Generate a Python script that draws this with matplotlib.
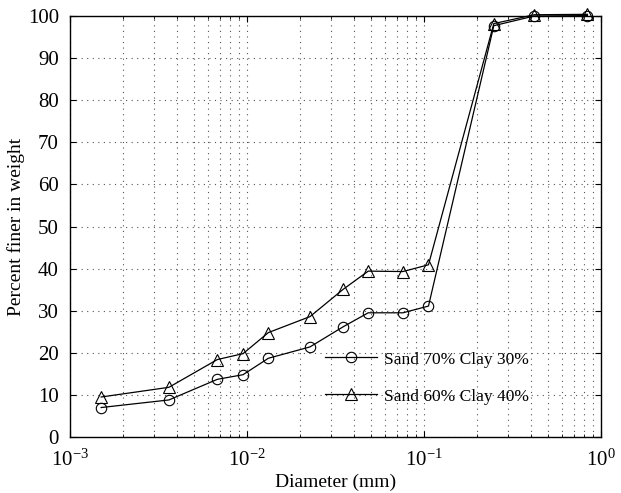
import matplotlib
matplotlib.use("Agg")
import matplotlib.pyplot as plt
from matplotlib.ticker import LogLocator, FixedLocator, NullFormatter

plt.rcParams['font.family'] = ['Liberation Serif', 'DejaVu Serif']
plt.rcParams['mathtext.fontset'] = 'custom'
plt.rcParams['mathtext.rm'] = 'Liberation Serif'
plt.rcParams['mathtext.it'] = 'Liberation Serif:italic'

diameter = [1.50e-3, 3.62e-3, 6.8e-3, 9.5e-3, 1.32e-2, 2.27e-2, 3.5e-2, 4.84e-2,
            7.6e-2, 0.106, 0.248, 0.42, 0.838]
sand70_clay30 = [7.0, 8.8, 13.7, 14.8, 18.7, 21.4, 26.2, 29.5, 29.5, 31.1, 97.7, 100.0, 100.1]
sand60_clay40 = [9.5, 11.8, 18.4, 19.8, 24.8, 28.6, 35.1, 39.4, 39.3, 40.9, 98.2, 100.3, 100.4]
labels = ['Sand 70% Clay 30%', 'Sand 60% Clay 40%']
yticks = list(range(0, 101, 10))

fig = plt.figure(figsize=(6.21, 4.93), dpi=100)
ax = fig.add_axes([70/621, 1-437/493, 531/621, 421/493])

ax.plot(diameter, sand70_clay30, color='black', lw=0.9, marker='o', ms=7.5,
        mfc='none', mec='black', mew=0.8, label=labels[0], clip_on=False)
ax.plot(diameter, sand60_clay40, color='black', lw=0.9, marker='^', ms=8.5,
        mfc='none', mec='black', mew=0.8, label=labels[1], clip_on=False)

ax.set_xscale('log')
ax.set_xlim(1e-3, 1)
ax.set_ylim(0, 100)
ax.set_yticks(yticks)
ax.xaxis.set_major_locator(FixedLocator([1e-3, 1e-2, 1e-1, 1]))
ax.xaxis.set_minor_locator(LogLocator(base=10, subs=range(2, 10)))
ax.xaxis.set_minor_formatter(NullFormatter())
ax.set_xticklabels([r'$10^{-3}$', r'$10^{-2}$', r'$10^{-1}$', r'$10^{0}$'])

ax.grid(True, which='major', axis='both', linestyle=(0, (1, 4)), color='#555555', lw=0.8)
ax.grid(True, which='minor', axis='x', linestyle=(0, (1, 4)), color='#555555', lw=0.8)

ax.tick_params(which='both', direction='in', top=True, right=True, labelsize=15)
ax.tick_params(which='major', length=4, width=0.8)
ax.tick_params(which='minor', length=2.5, width=0.6)
ax.tick_params(axis='x', which='major', pad=9)
ax.tick_params(axis='y', which='major', pad=8)
for s in ax.spines.values():
    s.set_linewidth(1.0)

ax.set_xlabel('Diameter (mm)', fontsize=14, labelpad=2)
ax.set_ylabel('Percent finer in weight', fontsize=14, labelpad=2)

leg = ax.legend(loc='lower left', bbox_to_anchor=(0.45, 0.04), frameon=False,
                fontsize=12.5, handlelength=3.0, handletextpad=0.4, labelspacing=1.2)

fig.savefig('out.png', dpi=100)
